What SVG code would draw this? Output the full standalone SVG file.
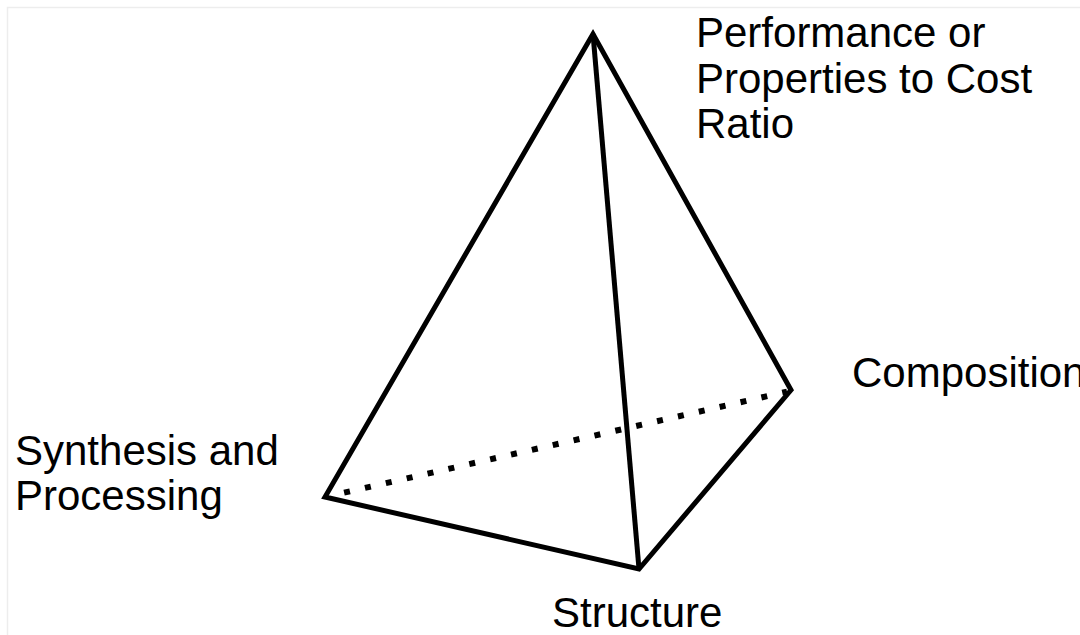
<svg xmlns="http://www.w3.org/2000/svg" width="1080" height="635" viewBox="0 0 1080 635">
<style>
.edge{fill:none;stroke:#000;stroke-width:5;stroke-linejoin:miter;stroke-linecap:butt}
.hidden{fill:none;stroke:#000;stroke-width:6;stroke-dasharray:6 15.4}
.lbl{font-family:"Liberation Sans",Arial,sans-serif;font-size:42px;fill:#000}
.frame{stroke:#ededed;stroke-width:1.5;fill:none}
</style>
<rect width="1080" height="635" fill="#fff"/>
<path class="frame" d="M7.5,635 V7.5 H1080"/>
<g id="connectors">
<line class="hidden" x1="344.1" y1="492.7" x2="787" y2="391.6"/>
<polygon class="edge" points="593,34 325,497 639,569 791,390"/>
<line class="edge" x1="593" y1="34" x2="639" y2="569"/>
</g>
<g id="node-performance"><text class="lbl" x="696" y="47">Performance or</text><text class="lbl" x="696" y="93">Properties to Cost</text><text class="lbl" x="696" y="138">Ratio</text></g>
<g id="node-composition"><text class="lbl" x="852" y="387">Composition</text></g>
<g id="node-synthesis"><text class="lbl" x="15" y="465">Synthesis and</text><text class="lbl" x="15" y="510">Processing</text></g>
<g id="node-structure"><text class="lbl" x="552" y="627">Structure</text></g>
</svg>
